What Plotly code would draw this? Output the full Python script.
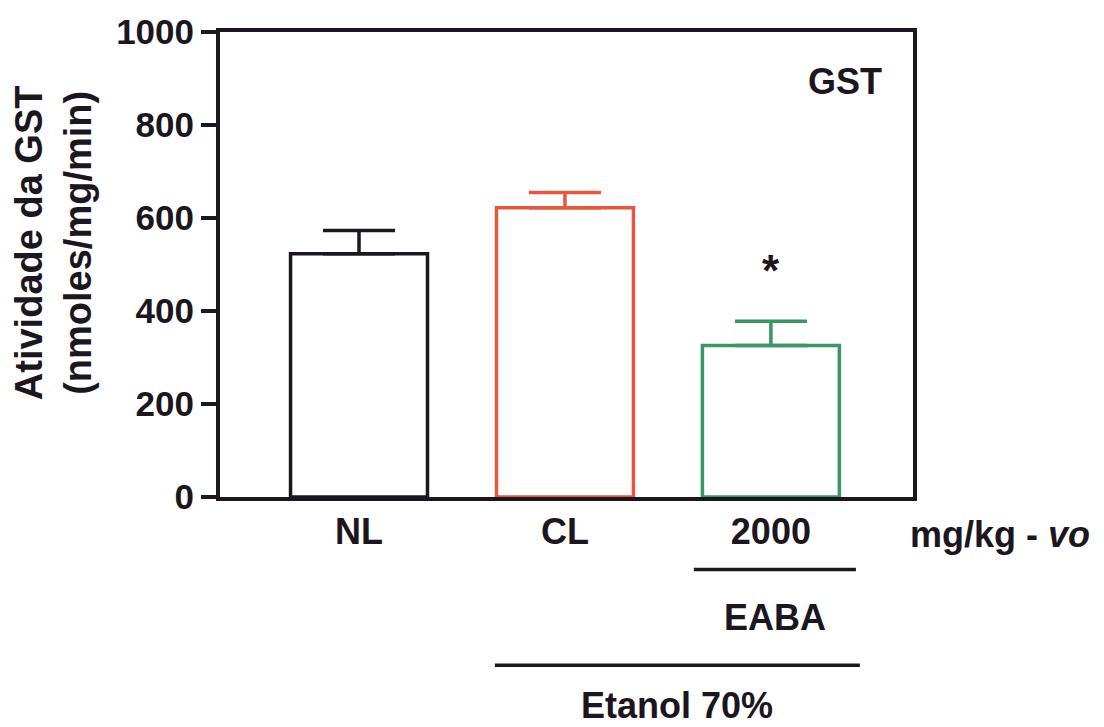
import plotly.graph_objects as go

categories = ["NL", "CL", "2000"]
means = [523, 622, 326]
sem_up = [50, 33, 52]
bar_colors = ["#1c1620", "#e5573f", "#3b9566"]
y_ticks = [0, 200, 400, 600, 800, 1000]

FONT = "Arial, Liberation Sans, sans-serif"
TXT = "#1c1620"

fig = go.Figure()
for i, (c, m, e, col) in enumerate(zip(categories, means, sem_up, bar_colors)):
    fig.add_trace(go.Bar(
        x=[i], y=[m], width=0.665,
        marker=dict(color="white", line=dict(color=col, width=3.5)),
        error_y=dict(type="data", symmetric=False, array=[e], arrayminus=[0],
                     color=col, thickness=3.5, width=36),
        showlegend=False, hoverinfo="skip",
    ))

fig.update_layout(
    width=1104, height=727,
    margin=dict(l=220, r=191, t=30, b=230),
    paper_bgcolor="white", plot_bgcolor="white",
    font=dict(family=FONT, color=TXT),
    showlegend=False,
)
fig.update_xaxes(
    range=[-0.675, 2.69], tickvals=[0, 1, 2], ticktext=categories,
    ticks="", showgrid=False, zeroline=False,
    showline=True, linecolor=TXT, linewidth=4, mirror=True,
    tickfont=dict(size=36, family=FONT, color=TXT, weight="bold"),
)
fig.update_yaxes(
    range=[0, 1000], tickvals=y_ticks, ticks="outside", ticklen=15, tickwidth=3.5,
    tickcolor=TXT, showgrid=False, zeroline=False,
    showline=True, linecolor=TXT, linewidth=4, mirror=True,
    tickfont=dict(size=35, family=FONT, color=TXT, weight="bold"),
)

def ann(text, x, y, xref="x", yref="paper", size=36, **kw):
    fig.add_annotation(text=text, x=x, y=y, xref=xref, yref=yref, showarrow=False,
                       xanchor="center", yanchor="middle",
                       font=dict(size=size, family=FONT, color=TXT, weight="bold"), **kw)

ann("Atividade da GST<br>(nmoles/mg/min)", -0.241, 0.548, xref="paper", size=38,
    textangle=-90)
ann("GST", 2.36, 0.893)
ann("*", 2.0, 488, yref="y", size=44)
ann("mg/kg - <i>vo</i>", (1000 - 220) / 693, -0.0814, xref="paper")
ann("EABA", 2.02, -0.259)
ann("Etanol 70%", 1.544, -0.4475)

fig.add_shape(type="line", xref="x", yref="paper", x0=1.626, x1=2.413, y0=-0.156, y1=-0.156,
              line=dict(color=TXT, width=3.5))
fig.add_shape(type="line", xref="x", yref="paper", x0=0.660, x1=2.432, y0=-0.362, y1=-0.362,
              line=dict(color=TXT, width=3.5))

fig.write_html(
    "out.html",
    config={"displayModeBar": False, "staticPlot": True},
    post_script="document.body.style.margin='0';document.body.style.overflow='hidden';",
)
